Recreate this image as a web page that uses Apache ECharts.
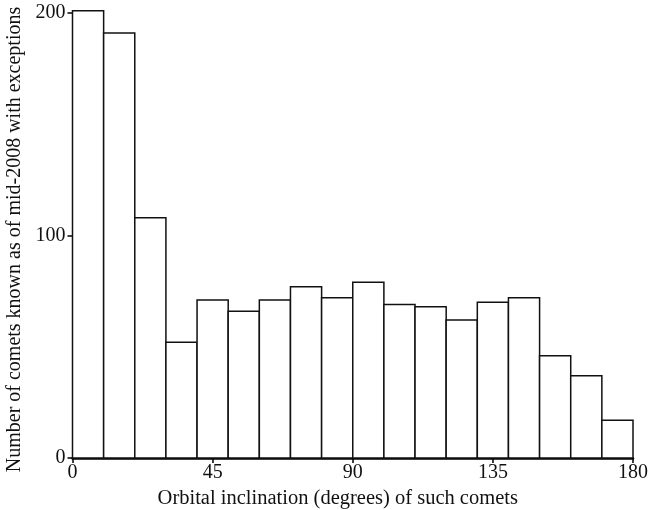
<!DOCTYPE html>
<html>
<head>
<meta charset="utf-8">
<script src="https://cdn.jsdelivr.net/npm/echarts@6/dist/echarts.min.js"></script>
<style>
  html, body { margin: 0; padding: 0; background: #fff; }
  #chart { width: 649px; height: 510px; }
</style>
</head>
<body>
<div id="chart"></div>
<script>
// Histogram bins: orbital inclination in 10-degree steps
const binStarts = [0, 10, 20, 30, 40, 50, 60, 70, 80, 90, 100, 110, 120, 130, 140, 150, 160, 170];
const binWidth = 10;
const cometCounts = [201, 191, 108, 52, 71, 66, 71, 77, 72, 79, 69, 68, 62, 70, 72, 46, 37, 17];
const xTicks = [0, 45, 90, 135, 180];
const yTicks = [0, 100, 200];

const serif = '"Liberation Serif", "DejaVu Serif", serif';
const chart = echarts.init(document.getElementById('chart'), null, { renderer: 'canvas' });

// [binStart, binEnd, count] per histogram column
const histData = binStarts.map((s, i) => [s, s + binWidth, cometCounts[i]]);

function renderBin(params, api) {
  const topLeft = api.coord([api.value(0), api.value(2)]);
  const bottomRight = api.coord([api.value(1), 0]);
  return {
    type: 'rect',
    shape: {
      x: topLeft[0],
      y: topLeft[1],
      width: bottomRight[0] - topLeft[0],
      height: bottomRight[1] - topLeft[1]
    },
    style: { fill: '#fff', stroke: '#111', lineWidth: 1.5 }
  };
}

chart.setOption({
  animation: false,
  backgroundColor: '#fff',
  grid: { left: 72.5, right: 16, top: 13, bottom: 52, outerBoundsMode: 'none', containLabel: false },
  xAxis: {
    type: 'value',
    min: xTicks[0],
    max: xTicks[xTicks.length - 1],
    interval: 45,
    name: 'Orbital inclination (degrees) of such comets',
    nameLocation: 'middle',
    nameGap: 28,
    nameTextStyle: { fontFamily: serif, fontSize: 20.5, color: '#111', padding: [0, 30, 0, 0] },
    axisLine: { show: true, onZero: false, lineStyle: { color: '#000', width: 2.5 } },
    axisTick: { show: true, length: 5, lineStyle: { color: '#000', width: 1.5 } },
    axisLabel: { fontFamily: serif, fontSize: 20, color: '#111', margin: 5 },
    splitLine: { show: false }
  },
  yAxis: {
    type: 'value',
    min: yTicks[0],
    max: yTicks[yTicks.length - 1],
    interval: 100,
    name: 'Number of comets known as of mid-2008 with exceptions',
    nameLocation: 'middle',
    nameGap: 42,
    nameTextStyle: { fontFamily: serif, fontSize: 20, color: '#111', padding: [0, 8, 0, 0] },
    axisLine: { show: true, lineStyle: { color: '#000', width: 2 } },
    axisTick: { show: true, length: 5, lineStyle: { color: '#000', width: 1.5 } },
    axisLabel: { fontFamily: serif, fontSize: 20, color: '#111', margin: 7 },
    splitLine: { show: false }
  },
  series: [{
    type: 'custom',
    renderItem: renderBin,
    data: histData,
    encode: { x: [0, 1], y: 2 },
    silent: true,
    clip: false
  }]
});
</script>
</body>
</html>
